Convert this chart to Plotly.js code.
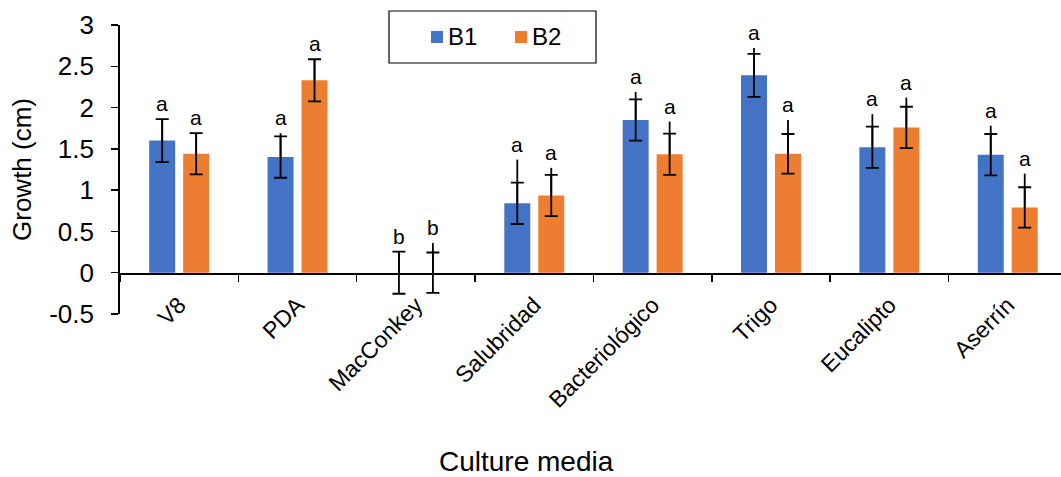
<!DOCTYPE html>
<html>
<head>
<meta charset="utf-8">
<script src="https://cdn.plot.ly/plotly-3.0.1.min.js"></script>
<style>
  html, body { margin: 0; padding: 0; background: #fff; }
  #chart { width: 1061px; height: 477px; }
</style>
</head>
<body>
<div id="chart"></div>
<script>
// Culture media tested
const categories = ['V8', 'PDA', 'MacConkey', 'Salubridad', 'Bacteriológico', 'Trigo', 'Eucalipto', 'Aserrín'];

// Mean growth (cm) per isolate
const b1 = [1.60, 1.40, 0, 0.84, 1.85, 2.39, 1.52, 1.43];
const b2 = [1.44, 2.33, 0, 0.935, 1.435, 1.44, 1.76, 0.79];

// Standard error (symmetric, capped whiskers)
const b1Err = [0.26, 0.25, 0.255, 0.25, 0.25, 0.26, 0.25, 0.25];
const b2Err = [0.25, 0.255, 0.245, 0.25, 0.25, 0.24, 0.25, 0.245];

// Upper end of the whisker line (where it runs past the cap)
const b1Reach = [1.86, 1.69, 0.25, 1.37, 2.19, 2.72, 1.92, 1.78];
const b2Reach = [1.69, 2.58, 0.36, 1.27, 1.83, 1.85, 2.12, 1.20];

// Significance letters
const b1Letters = ['a', 'a', 'b', 'a', 'a', 'a', 'a', 'a'];
const b2Letters = ['a', 'a', 'b', 'a', 'a', 'a', 'a', 'a'];

// Growth axis ticks
const yTickVals = [-0.5, 0, 0.5, 1, 1.5, 2, 2.5, 3];
const yTickText = ['-0.5', '0', '0.5', '1', '1.5', '2', '2.5', '3'];

const seriesNames = ['B1', 'B2'];
const BLUE = '#4472C4';
const ORANGE = '#ED7D31';
const FONT = 'Arial, "Liberation Sans", sans-serif';

function capped(errs) {
  return { type: 'data', array: errs, visible: true, color: '#000', thickness: 1.8, width: 6.5 };
}
function reachLine(values, reach) {
  const up = values.map((v, i) => Math.max(0, reach[i] - v));
  return { type: 'data', symmetric: false, array: up, arrayminus: values.map(() => 0),
           visible: true, color: '#000', thickness: 1.8, width: 0 };
}

const traces = [
  { type: 'bar', name: seriesNames[0], x: categories, y: b1, offsetgroup: 'B1',
    marker: { color: BLUE }, error_y: capped(b1Err), hoverinfo: 'x+y' },
  { type: 'bar', name: seriesNames[1], x: categories, y: b2, offsetgroup: 'B2',
    marker: { color: ORANGE }, error_y: capped(b2Err), hoverinfo: 'x+y' },
  { type: 'bar', name: 'B1 whisker', x: categories, y: b1, offsetgroup: 'B1',
    marker: { color: 'rgba(0,0,0,0)' }, error_y: reachLine(b1, b1Reach), hoverinfo: 'skip' },
  { type: 'bar', name: 'B2 whisker', x: categories, y: b2, offsetgroup: 'B2',
    marker: { color: 'rgba(0,0,0,0)' }, error_y: reachLine(b2, b2Reach), hoverinfo: 'skip' }
];

const barShift = 17; // half distance between paired bar centres, px
const annotations = [];
categories.forEach((c, i) => {
  const top1 = Math.max(b1Reach[i], b1[i] + b1Err[i]);
  const top2 = Math.max(b2Reach[i], b2[i] + b2Err[i]);
  annotations.push({ x: c, y: top1, xref: 'x', yref: 'y', text: b1Letters[i], showarrow: false,
    xshift: -barShift, yshift: 2, yanchor: 'bottom', font: { family: FONT, size: 21, color: '#000' } });
  annotations.push({ x: c, y: top2, xref: 'x', yref: 'y', text: b2Letters[i], showarrow: false,
    xshift: barShift, yshift: 2, yanchor: 'bottom', font: { family: FONT, size: 21, color: '#000' } });
});

// Plot-area geometry in pixels, used to place the legend box and axis title
const PL = 120, PW = 941, PT = 25, PH = 289;
const px = v => (v - PL) / PW;
const py = v => (PT + PH - v) / PH;

// Legend: framed box with colour keys
const shapes = [
  { type: 'rect', xref: 'paper', yref: 'paper', x0: px(389), x1: px(596), y0: py(63), y1: py(11),
    line: { color: '#000', width: 1.2 }, fillcolor: '#fff', layer: 'above' },
  { type: 'rect', xref: 'paper', yref: 'paper', x0: px(431), x1: px(443), y0: py(43), y1: py(31),
    line: { width: 0 }, fillcolor: BLUE, layer: 'above' },
  { type: 'rect', xref: 'paper', yref: 'paper', x0: px(515), x1: px(527), y0: py(43), y1: py(31),
    line: { width: 0 }, fillcolor: ORANGE, layer: 'above' }
];
annotations.push({ xref: 'paper', yref: 'paper', x: px(446), y: py(37), xanchor: 'left', yanchor: 'middle',
  text: seriesNames[0], showarrow: false, font: { family: FONT, size: 24, color: '#000' } });
annotations.push({ xref: 'paper', yref: 'paper', x: px(530), y: py(37), xanchor: 'left', yanchor: 'middle',
  text: seriesNames[1], showarrow: false, font: { family: FONT, size: 24, color: '#000' } });

// X-axis title
annotations.push({ xref: 'paper', yref: 'paper', x: px(526), y: py(461), xanchor: 'center', yanchor: 'middle',
  text: 'Culture media', showarrow: false, font: { family: FONT, size: 28, color: '#000' } });

const layout = {
  width: 1061, height: 477,
  margin: { l: PL, r: 0, t: PT, b: 477 - PT - PH },
  paper_bgcolor: '#fff', plot_bgcolor: '#fff',
  font: { family: FONT, color: '#000', size: 22 },
  barmode: 'group', bargap: 0.426, bargroupgap: 0.235,
  showlegend: false,
  xaxis: {
    type: 'category', range: [-0.5, 7.45],
    anchor: 'free', position: 0.5 / 3.5,
    showline: true, linecolor: '#000', linewidth: 1.8,
    ticks: 'outside', tickson: 'boundaries', ticklen: 7, tickcolor: '#000', tickwidth: 1.5,
    tickangle: -45, tickfont: { family: FONT, size: 23 }, ticklabelstandoff: 8,
    showgrid: false, zeroline: false
  },
  yaxis: {
    range: [-0.5, 3], tickmode: 'array', tickvals: yTickVals, ticktext: yTickText,
    showline: true, linecolor: '#000', linewidth: 1.8,
    ticks: 'outside', ticklen: 7, tickcolor: '#000', tickwidth: 1.5,
    tickfont: { family: FONT, size: 26 }, ticklabelstandoff: 12,
    showgrid: false, zeroline: false,
    title: { text: 'Growth (cm)', font: { family: FONT, size: 26 }, standoff: 10 }
  },
  shapes: shapes,
  annotations: annotations
};

Plotly.newPlot('chart', traces, layout, { displayModeBar: false, staticPlot: true });
</script>
</body>
</html>
